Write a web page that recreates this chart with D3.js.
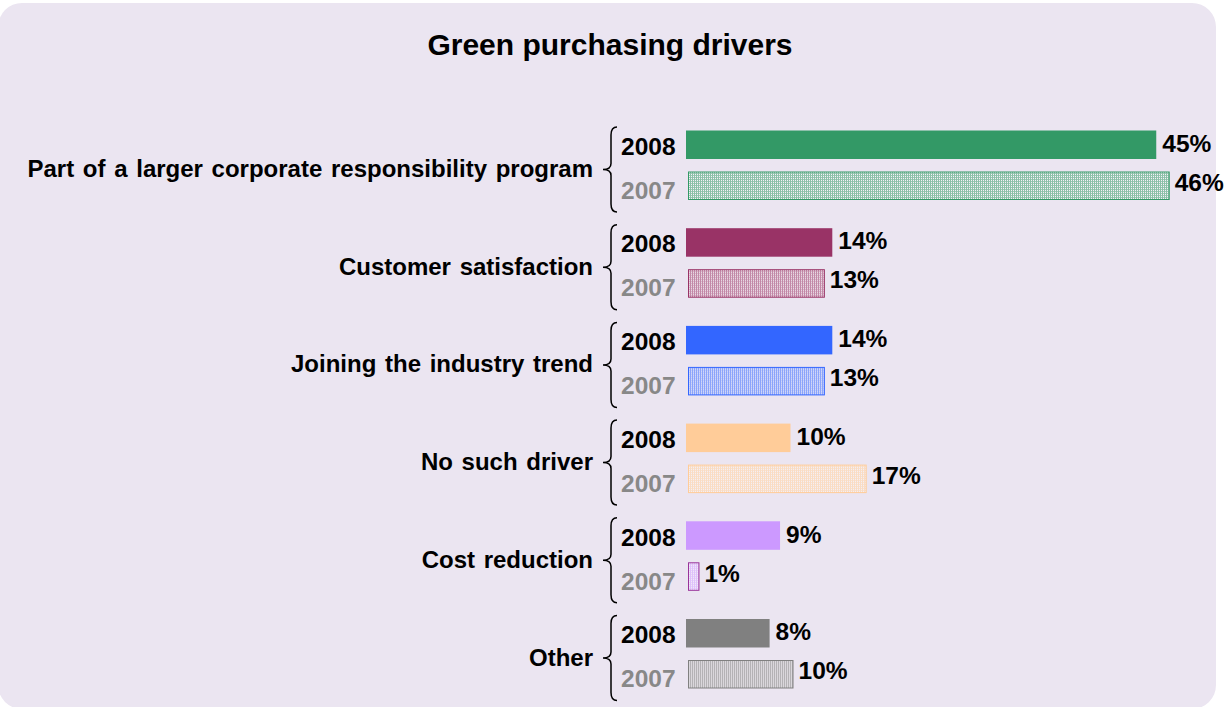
<!DOCTYPE html>
<html>
<head>
<meta charset="utf-8">
<script src="https://cdn.jsdelivr.net/npm/d3@7"></script>
<style>
  body { margin: 0; background: #fff; }
  svg text { font-family: "Liberation Sans", Arial, sans-serif; font-weight: bold; }
</style>
</head>
<body>
<div id="chart"></div>
<script>
// Data
let categories = [
  "Part of a larger corporate responsibility program",
  "Customer satisfaction",
  "Joining the industry trend",
  "No such driver",
  "Cost reduction",
  "Other"
];
let years = ["2008", "2007"];
let values2008 = [45, 14, 14, 10, 9, 8];
let values2007 = [46, 13, 13, 17, 1, 10];

// Colours per category
let colors = ["#339966", "#993366", "#3366ff", "#ffcc99", "#cc99ff", "#808080"];
let outlines = ["#339966", "#993366", "#3366ff", "#ffcc99", "#993399", "#808080"];

let width = 1228, height = 707;
let svg = d3.select("#chart").append("svg")
  .attr("width", width)
  .attr("height", height);

// background panel
svg.append("rect")
  .attr("x", -2).attr("y", 3)
  .attr("width", 1218).attr("height", 706)
  .attr("rx", 24)
  .attr("fill", "#ebe5f1");

// dotted patterns for the 2007 bars
let defs = svg.append("defs");
colors.forEach(function (c, i) {
  let p = defs.append("pattern")
    .attr("id", "pat" + i)
    .attr("patternUnits", "userSpaceOnUse")
    .attr("width", 2).attr("height", 2);
  p.append("rect").attr("width", 2).attr("height", 2).attr("fill", "#f4f0f6");
  p.append("rect").attr("x", 0).attr("width", 1).attr("height", 2).attr("fill", c).attr("opacity", 0.55);
  p.append("rect").attr("x", 1).attr("y", 1).attr("width", 1).attr("height", 1).attr("fill", c).attr("opacity", 0.45);
});

// title
svg.append("text")
  .attr("x", 610).attr("y", 55)
  .attr("text-anchor", "middle")
  .attr("font-size", "30px")
  .text("Green purchasing drivers");

// scales
let x = d3.scaleLinear().domain([0, 46]).range([686, 686 + 46 * 10.45]);
let y = d3.scaleBand().domain(categories).range([118, 118 + 6 * 97.7]);
let inner = d3.scaleBand().domain(years).range([12.5, 82]).paddingInner(0.305);

let rows = categories.map(function (c, i) {
  return { cat: c, i: i, v2008: values2008[i], v2007: values2007[i] };
});

let group = svg.selectAll("g.group")
  .data(rows)
  .enter()
  .append("g")
  .attr("class", "group")
  .attr("transform", d => `translate(0,${y(d.cat)})`);

// category label
group.append("text")
  .attr("x", 593)
  .attr("y", 59)
  .attr("text-anchor", "end")
  .attr("font-size", "24px")
  .attr("word-spacing", "2px")
  .text(d => d.cat);

// curly brace
group.append("path")
  .attr("fill", "none")
  .attr("stroke", "#000")
  .attr("stroke-width", 1.5)
  .attr("d", function () {
    let top = 9, bot = 94, mid = 51.5, xr = 617, xc = 611, xt = 603;
    return `M${xr},${top} Q${xc},${top} ${xc},${top + 8} L${xc},${mid - 6} Q${xc},${mid} ${xt},${mid}`
      + ` Q${xc},${mid} ${xc},${mid + 6} L${xc},${bot - 8} Q${xc},${bot} ${xr},${bot}`;
  });

// year labels
group.append("text")
  .attr("x", 621)
  .attr("y", inner("2008") + inner.bandwidth() / 2 + 10)
  .attr("font-size", "24.5px")
  .attr("fill", "#000")
  .text("2008");
group.append("text")
  .attr("x", 621)
  .attr("y", inner("2007") + inner.bandwidth() / 2 + 13)
  .attr("font-size", "24.5px")
  .attr("fill", "#888888")
  .text("2007");

// 2008 bars
group.append("rect")
  .attr("x", x(0))
  .attr("y", inner("2008"))
  .attr("width", d => x(d.v2008) - x(0))
  .attr("height", inner.bandwidth())
  .attr("fill", d => colors[d.i]);

// 2007 bars
group.append("rect")
  .attr("x", x(0) + 2.5)
  .attr("y", inner("2007") + 0.5)
  .attr("width", d => x(d.v2007) - x(0))
  .attr("height", inner.bandwidth() - 1)
  .attr("fill", d => `url(#pat${d.i})`)
  .attr("stroke", d => outlines[d.i])
  .attr("stroke-width", 1);

// value labels
group.append("text")
  .attr("x", d => x(d.v2008) + 6)
  .attr("y", inner("2008") + inner.bandwidth() / 2 + 7)
  .attr("font-size", "24.5px")
  .text(d => d.v2008 + "%");
group.append("text")
  .attr("x", d => x(d.v2007) + 8)
  .attr("y", inner("2007") + inner.bandwidth() / 2 + 5)
  .attr("font-size", "24.5px")
  .text(d => d.v2007 + "%");
</script>
</body>
</html>
